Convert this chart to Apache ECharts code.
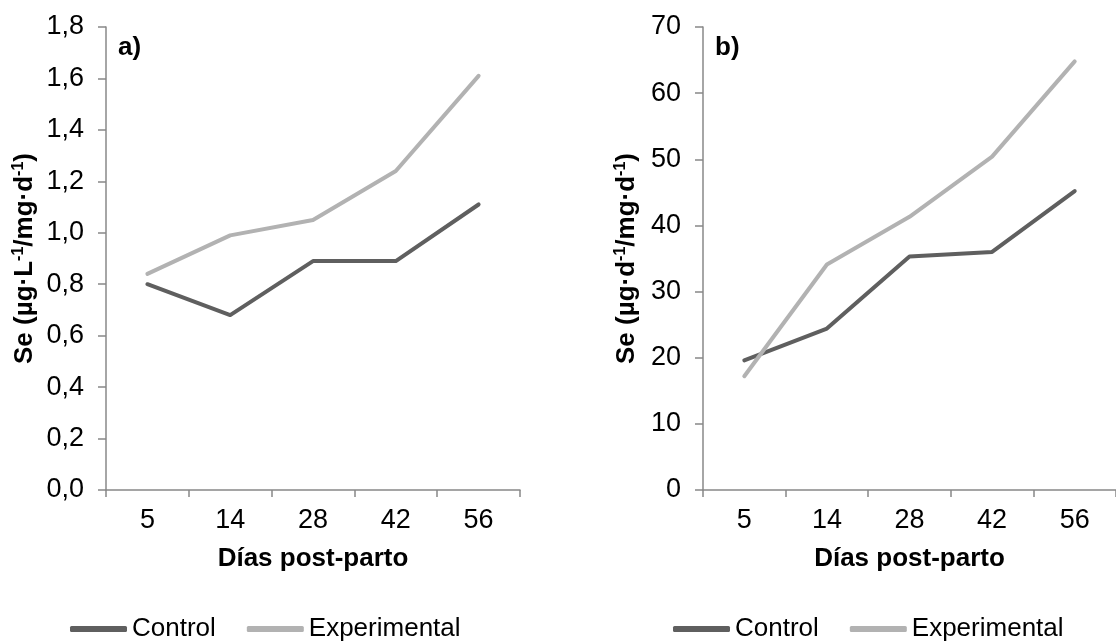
<!DOCTYPE html>
<html>
<head>
<meta charset="utf-8">
<script src="https://cdn.jsdelivr.net/npm/echarts@6/dist/echarts.min.js"></script>
<style>
  html, body { margin: 0; padding: 0; background: #fff; }
  #chart { width: 1116px; height: 643px; }
</style>
</head>
<body>
<div id="chart"></div>
<script>
// ---- data ----
const days = ['5', '14', '28', '42', '56'];
const seriesNames = ['Control', 'Experimental'];
// panel a) Se (µg·L-1 / mg·d-1)
const controlA = [0.80, 0.68, 0.89, 0.89, 1.11];
const experimentalA = [0.84, 0.99, 1.05, 1.24, 1.61];
// panel b) Se (µg·d-1 / mg·d-1)
const controlB = [19.6, 24.4, 35.3, 36.0, 45.2];
const experimentalB = [17.2, 34.1, 41.3, 50.4, 64.8];
const panelLabels = ['a)', 'b)'];
const xTitle = 'Días post-parto';

// ---- styles ----
const FONT = "'Liberation Sans', Arial, sans-serif";
const AXIS_COLOR = '#888888';
const CONTROL_COLOR = '#5f5f5f';
const EXP_COLOR = '#b2b2b2';

function yName(mid) {
  return '{b|Se (µg·' + mid + '}{s|-1}{b|/mg·d}{s|-1}{b|)}';
}
const nameRich = {
  b: { fontFamily: FONT, fontSize: 26, fontWeight: 'bold', color: '#000', lineHeight: 30 },
  s: { fontFamily: FONT, fontSize: 16, fontWeight: 'bold', color: '#000', lineHeight: 30, verticalAlign: 'top', padding: [1, 0, 0, 0] }
};

function xAxisCfg(gridIndex) {
  return {
    type: 'category', gridIndex: gridIndex, data: days, boundaryGap: true,
    name: xTitle, nameLocation: 'middle', nameGap: 56,
    nameTextStyle: { fontFamily: FONT, fontSize: 26, fontWeight: 'bold', color: '#000' },
    axisLine: { show: true, lineStyle: { color: AXIS_COLOR, width: 1.5 } },
    axisTick: { show: true, length: 7, interval: 0, alignWithLabel: false, lineStyle: { color: AXIS_COLOR, width: 1.5 } },
    axisLabel: { fontFamily: FONT, fontSize: 27, color: '#000', margin: 17, interval: 0 },
    splitLine: { show: false }
  };
}
function yAxisCfg(gridIndex, min, max, interval, decimals, mid, gap) {
  return {
    type: 'value', gridIndex: gridIndex, min: min, max: max, interval: interval,
    name: yName(mid), nameLocation: 'middle', nameGap: gap,
    nameTextStyle: { rich: nameRich },
    axisLine: { show: true, lineStyle: { color: AXIS_COLOR, width: 1.5 } },
    axisTick: { show: true, length: 8, lineStyle: { color: AXIS_COLOR, width: 1.5 } },
    axisLabel: {
      fontFamily: FONT, fontSize: 27, color: '#000', margin: 22,
      formatter: function (v) { return v.toFixed(decimals).replace('.', ','); }
    },
    splitLine: { show: false }
  };
}
function lineSeries(name, data, xi, color) {
  return {
    name: name, type: 'line', xAxisIndex: xi, yAxisIndex: xi, data: data,
    symbol: 'none', smooth: false, color: color,
    itemStyle: { color: color },
    lineStyle: { color: color, width: 4, cap: 'round', join: 'round' },
    emphasis: { disabled: true }
  };
}
const legendCommon = {
  orient: 'horizontal', top: 616, padding: 0, itemGap: 31,
  itemWidth: 57, itemHeight: 6, icon: 'roundRect',
  textStyle: { fontFamily: FONT, fontSize: 26, color: '#000' },
  data: seriesNames
};

const chart = echarts.init(document.getElementById('chart'), null, { renderer: 'canvas' });
chart.setOption({
  animation: false,
  backgroundColor: '#ffffff',
  textStyle: { fontFamily: FONT },
  title: [
    { text: panelLabels[0], left: 118, top: 35, padding: 0, textStyle: { fontFamily: FONT, fontSize: 26, fontWeight: 'bold', color: '#000' } },
    { text: panelLabels[1], left: 715, top: 35, padding: 0, textStyle: { fontFamily: FONT, fontSize: 26, fontWeight: 'bold', color: '#000' } }
  ],
  grid: [
    { left: 106, top: 27, width: 414, height: 463 },
    { left: 703, top: 27, width: 420, height: 463 }
  ],
  xAxis: [xAxisCfg(0), xAxisCfg(1)],
  yAxis: [
    yAxisCfg(0, 0, 1.8, 0.2, 1, 'L', 66),
    yAxisCfg(1, 0, 70, 10, 0, 'd', 61)
  ],
  legend: [
    Object.assign({}, legendCommon, { left: 70 }),
    Object.assign({}, legendCommon, { left: 673 })
  ],
  series: [
    lineSeries(seriesNames[0], controlA, 0, CONTROL_COLOR),
    lineSeries(seriesNames[1], experimentalA, 0, EXP_COLOR),
    lineSeries(seriesNames[0], controlB, 1, CONTROL_COLOR),
    lineSeries(seriesNames[1], experimentalB, 1, EXP_COLOR)
  ]
});
</script>
</body>
</html>
